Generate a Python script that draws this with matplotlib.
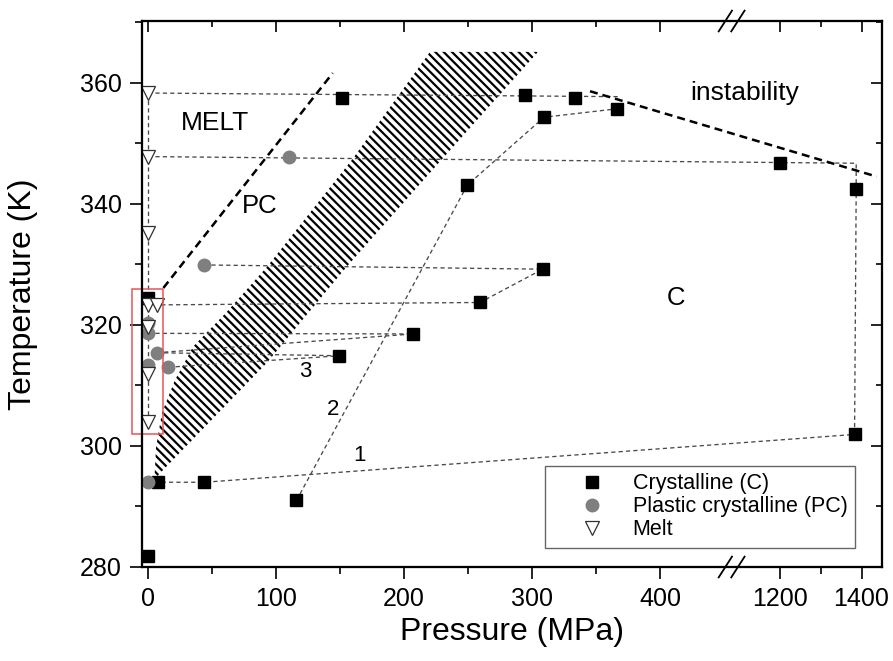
import numpy as np
import matplotlib
matplotlib.use("Agg")
import matplotlib.pyplot as plt
from matplotlib.ticker import FixedLocator, FixedFormatter, NullFormatter
from matplotlib.patches import Rectangle

plt.rcParams['font.family'] = ['Liberation Sans', 'DejaVu Sans']
plt.rcParams['hatch.linewidth'] = 1.6

# measured points
cryst_p = [0, 0, 8, 44, 116, 149.5, 151.5, 207.3, 249.5, 259.4, 294.5, 308.3, 309.4, 333.6, 366.6, 1200, 1383, 1387]
cryst_t = [281.8, 324.4, 294.0, 294.0, 291.0, 314.9, 357.4, 318.5, 343.1, 323.7, 357.9, 329.2, 354.3, 357.5, 355.7, 346.7, 301.9, 342.4]

pc_p = [0, 0, 0, 0, 6.8, 15.9, 43.75, 110.4]
pc_t = [294.0, 313.4, 318.6, 320.3, 315.4, 313.0, 329.9, 347.7]

melt_p = [0, 0, 0, 0, 6.8, 0, 0, 0]
melt_t = [358.3, 347.8, 335.2, 323.3, 323.3, 319.7, 311.9, 304.0]

# dotted connecting paths (pressure, temperature)
paths = [
    ([0, 0], [358.3, 304.0]),
    ([0, 368.75], [358.3, 357.7]),
    ([0, 1387, 1387, 1383, 44, 0], [347.8, 346.7, 342.4, 301.9, 294.0, 294.0]),
    ([116, 249.5, 309.4, 366.6], [291.0, 343.1, 354.3, 355.7]),
    ([43.75, 308.3, 259.4, 6.8], [329.9, 329.2, 323.7, 323.3]),
    ([0, 207.3], [318.6, 318.5]),
    ([6.8, 207.3], [315.4, 318.5]),
    ([6.8, 149.5], [315.4, 314.9]),
    ([15.9, 149.5], [313.0, 314.9]),
]

# boundaries
melt_line_p = [12, 144.3]
melt_line_t = [326.1, 361.6]
inst_p = [345.3, 1437]
inst_t = [358.6, 344.5]

band_p = [5, 6.3, 10.9, 21.1, 35.2, 60.9, 93.0, 159.4, 220.3, 304.7, 229.4, 155.2, 92.7, 9.4]
band_t = [294.5, 299.8, 305.5, 310.9, 316.4, 322.0, 329.6, 347.3, 365.1, 365.1, 347.3, 329.6, 313.7, 295.5]

# broken x axis: 0..456 linear, 1083..1450 compressed
B1, B2, R = 456.0, 1083.0, 0.32


def fwd(x):
    x = np.asarray(x, dtype=float)
    return np.where(x <= B1, x, np.where(x >= B2, B1 + (x - B2) * R, B1))


def inv(u):
    u = np.asarray(u, dtype=float)
    return np.where(u <= B1, u, B2 + (u - B1) / R)


fig = plt.figure(figsize=(8.93, 6.61), dpi=100)
ax = fig.add_axes([142 / 893, 1 - 567 / 661, 740 / 893, 546 / 661])
ax.set_xscale('function', functions=(fwd, inv))
xlim = (-4.7, 1450)
ylim = (280, 370.2)

ax.fill(band_p, band_t, facecolor='none', edgecolor='black', hatch='\\' * 4, linewidth=0, zorder=1)

for p, t in paths:
    ax.plot(p, t, color='#4a4a4a', lw=0.95, ls=(0, (3.2, 2.4)), zorder=2)

ax.plot(melt_line_p, melt_line_t, color='black', lw=1.8, ls=(0, (3.2, 2.0)), zorder=2)
ax.plot(inst_p, inst_t, color='black', lw=1.8, ls=(0, (3.2, 2.0)), zorder=2)

hc, = ax.plot(cryst_p, cryst_t, 's', color='black', ms=8.4, ls='none', zorder=3, label='Crystalline (C)')
hp, = ax.plot(pc_p, pc_t, 'o', color='#7f7f7f', ms=9, ls='none', zorder=4, label='Plastic crystalline (PC)')
hm, = ax.plot(melt_p, melt_t, 'v', mfc='white', mec='#303030', mew=0.9, ms=10, ls='none', zorder=5, label='Melt')

ax.add_patch(Rectangle((-12.3, 302.0), 24.25, 23.9, fill=False, edgecolor='#e8555a', lw=1.1, clip_on=False, zorder=6))

ax.text(52.1, 353.3, 'MELT', fontsize=19, ha='center', va='center')
ax.text(87, 339.6, 'PC', fontsize=18.5, ha='center', va='center')
ax.text(412.3, 324.4, 'C', fontsize=18.5, ha='center', va='center')
ax.text(0.815, 0.8676, 'instability', fontsize=19, ha='center', va='center', transform=ax.transAxes)
ax.text(123.2, 312.3, '3', fontsize=16, ha='center', va='center')
ax.text(144.3, 306.0, '2', fontsize=16, ha='center', va='center')
ax.text(165.1, 298.5, '1', fontsize=16, ha='center', va='center')

leg = ax.legend(handles=[hc, hp, hm], loc='lower right', bbox_to_anchor=(0.9635, 0.0348),
                borderaxespad=0, fontsize=15.5, frameon=True, fancybox=False, edgecolor='#404040',
                handlelength=3.6, handletextpad=0.1, labelspacing=0.1, borderpad=0.35)
leg.get_frame().set_linewidth(1.0)

xmaj = [0, 100, 200, 300, 400, 1200, 1400]
xmin = [50, 150, 250, 350, 1300]
ymaj = [280, 300, 320, 340, 360]
ymin = [290, 310, 330, 350, 370]

ax.set_xlim(xlim)
ax.set_ylim(ylim)
ax.xaxis.set_major_locator(FixedLocator(xmaj))
ax.xaxis.set_minor_locator(FixedLocator(xmin))
ax.xaxis.set_major_formatter(FixedFormatter([str(v) for v in xmaj]))
ax.xaxis.set_minor_formatter(NullFormatter())
ax.yaxis.set_major_locator(FixedLocator(ymaj))
ax.yaxis.set_minor_locator(FixedLocator(ymin))
ax.tick_params(which='major', direction='out', length=8.5, width=1.2, labelsize=18, pad=6)
ax.tick_params(which='minor', direction='out', length=5, width=1.2)

axt = ax.twiny()
axt.set_xscale('function', functions=(fwd, inv))
axt.set_xlim(xlim)
axt.xaxis.set_major_locator(FixedLocator(xmaj))
axt.xaxis.set_minor_locator(FixedLocator(xmin))
axt.tick_params(which='major', direction='in', length=8, width=1.2, labeltop=False)
axt.tick_params(which='minor', direction='in', length=4, width=1.2)

axr = ax.twinx()
axr.set_ylim(ylim)
axr.yaxis.set_major_locator(FixedLocator(ymaj))
axr.yaxis.set_minor_locator(FixedLocator(ymin))
axr.tick_params(which='major', direction='in', length=8, width=1.2, labelright=False)
axr.tick_params(which='minor', direction='in', length=4, width=1.2)

for a in (ax, axt, axr):
    for s in a.spines.values():
        s.set_linewidth(1.5)

ax.set_xlabel('Pressure (MPa)', fontsize=23)
ax.set_ylabel('Temperature (K)', fontsize=23)
ax.xaxis.set_label_coords(0.5, -0.092)
ax.yaxis.set_label_coords(-0.14, 0.5)

# break marks
xb = (732 - 142) / 740
for yb in (0.0, 1.0):
    for dx in (-0.009, 0.008):
        ax.plot([xb + dx - 0.009, xb + dx + 0.009], [yb - 0.019, yb + 0.019], color='black', lw=1.3,
                transform=ax.transAxes, clip_on=False, zorder=7)

fig.savefig('out.png', dpi=100)
